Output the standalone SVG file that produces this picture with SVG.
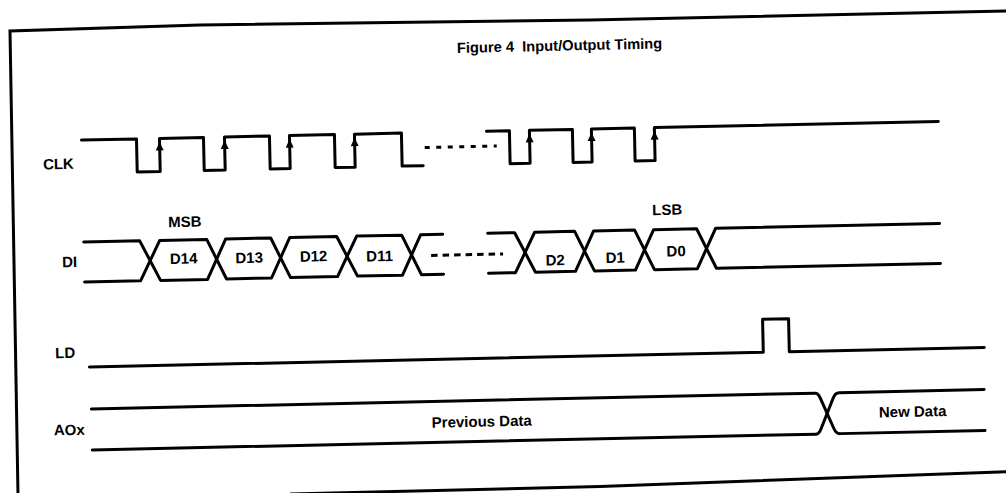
<svg xmlns="http://www.w3.org/2000/svg" width="1006" height="493" viewBox="0 0 1006 493">
<defs>
<style>
.w{fill:none;stroke:#000;stroke-width:3;stroke-linejoin:round;stroke-linecap:round}
.fr{fill:none;stroke:#000;stroke-width:3}
.dc{fill:none;stroke:#000;stroke-width:3;stroke-dasharray:5 6.5}
.dd{fill:none;stroke:#000;stroke-width:3;stroke-dasharray:6.5 5}
text{font-family:"Liberation Sans",Arial,sans-serif;font-weight:bold;font-size:15px;fill:#000}
.c{text-anchor:middle}
</style>
<path id="ar" d="M0,0 L-4,8.5 L4,8.5 Z" fill="#000"/>
</defs>
<rect width="1006" height="493" fill="#fff"/>
<g id="frame">
<path class="fr" d="M18,495 L10,31 L200,25 L590,20 L1010,11"/>
<path class="fr" d="M290,494 L600,486.5 L1010,471.5"/>
</g>
<g transform="rotate(-1.25 500 250)">
<g id="title"><text class="c" x="564" y="52" style="font-size:14.7px;white-space:pre">Figure 4  Input/Output Timing</text></g>
<g id="clk">
<text x="45" y="159.5">CLK</text>
<path class="w" d="M84,131 H139 V164 H162 V131 H206 V164 H227 V131 H272 V164 H292 V131 H337 V164 H357 V131 H404 V164 H425"/>
<path class="dc" d="M427,146 H499"/>
<path class="w" d="M489,131 H512 V164 H532 V131 H575 V164 H594 V131 H637 V164 H657 V131 H941"/>
<use href="#ar" x="162" y="134.5"/>
<use href="#ar" x="227" y="134.5"/>
<use href="#ar" x="292" y="134.5"/>
<use href="#ar" x="357" y="134.5"/>
<use href="#ar" x="532" y="134.5"/>
<use href="#ar" x="594" y="134.5"/>
<use href="#ar" x="657" y="134.5"/>
</g>
<g id="di">
<text x="62" y="257.6">DI</text>
<text class="c" x="185.6" y="220">MSB</text>
<text class="c" x="668" y="218.6">LSB</text>
<path class="w" d="M84,233 H140 L160,273 H207 L226,233 H271 L290,273 H337 L357,233 H402 L421,273 H443"/>
<path class="w" d="M84,273 H140 L160,233 H207 L226,273 H271 L290,233 H337 L357,273 H402 L421,233 H443"/>
<path class="dd" d="M431,254 H503"/>
<path class="w" d="M488,233 H515 L535,273 H575 L594,233 H635 L654,273 H697 L716,233 H940"/>
<path class="w" d="M488,273 H515 L535,233 H575 L594,273 H635 L654,233 H697 L716,273 H940"/>
<text class="c" x="183.5" y="256.8">D14</text>
<text class="c" x="249" y="257.4">D13</text>
<text class="c" x="313.5" y="257.4">D12</text>
<text class="c" x="379.5" y="258.7">D11</text>
<text class="c" x="555" y="266.6">D2</text>
<text class="c" x="615" y="265.4">D1</text>
<text class="c" x="676" y="260.2">D0</text>
</g>
<g id="ld">
<text x="53" y="348.5">LD</text>
<path class="w" d="M87,358 H761 V325 H787 V358 H982"/>
</g>
<g id="aox">
<text x="50" y="425.6">AOx</text>
<path class="w" d="M88,400 H812 Q815,400 817,405 L830,436 Q832,441 836,441 H981"/>
<path class="w" d="M88,441 H812 Q815,441 817,436 L830,405 Q832,400 836,400 H981"/>
<text class="c" x="478" y="426.3">Previous Data</text>
<text class="c" x="909" y="425.7">New Data</text>
</g>
</g>
</svg>
